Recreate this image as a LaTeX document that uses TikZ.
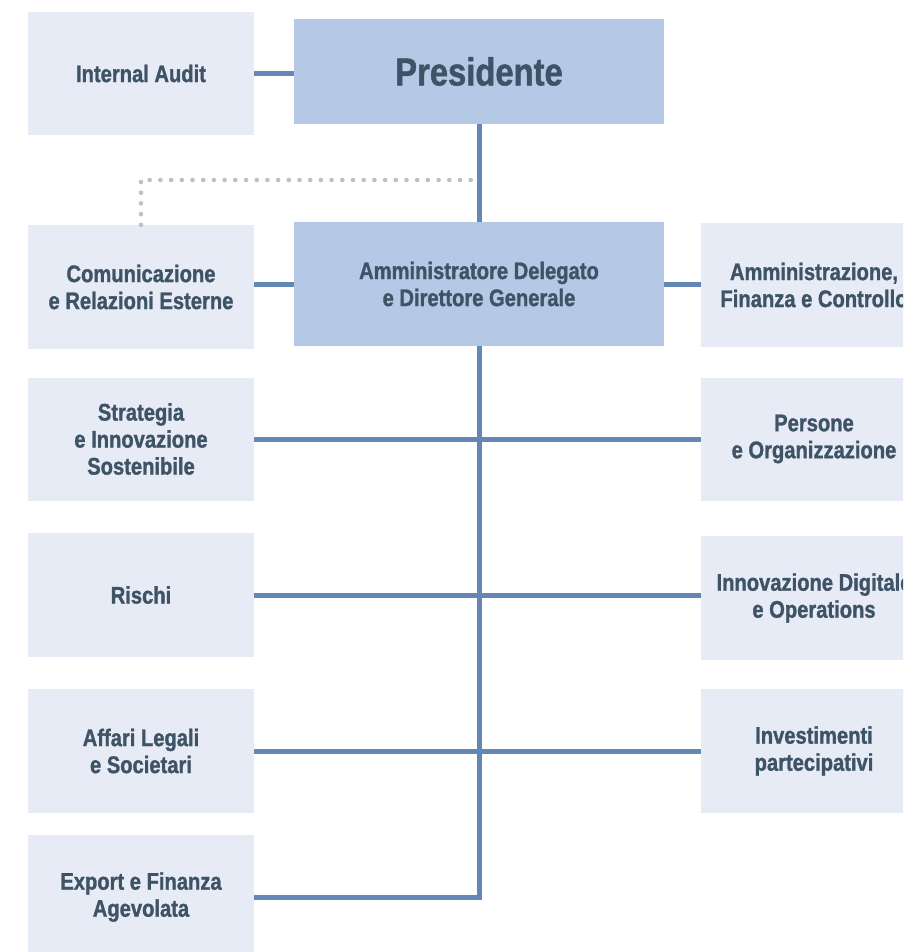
\documentclass[tikz,border=0pt]{standalone}
\usepackage{fontspec}
\setmainfont{Liberation Sans}[FakeStretch=0.84, BoldFeatures={FakeBold=1.2}]
\usepackage{xcolor}
\definecolor{boxlight}{HTML}{E7EBF5}
\definecolor{boxdark}{HTML}{B5C8E5}
\definecolor{linkblue}{HTML}{6487B6}
\definecolor{dotgrey}{HTML}{B8C2C9}
\definecolor{txtslate}{HTML}{3E5366}

\begin{document}
\begin{tikzpicture}[
    x=1pt, y=-1pt,
    unit/.style={fill=boxlight, minimum width=226pt, minimum height=123pt,
      inner sep=0pt, align=center, text=txtslate,
      font=\bfseries\fontsize{24}{27}\selectfont},
    head/.style={unit, fill=boxdark, minimum width=370pt},
    link/.style={draw=linkblue, line width=5pt},
    staff/.style={draw=dotgrey, line width=4.6pt, line cap=round,
      dash pattern=on 0pt off 10.7pt}
   ]
   \useasboundingbox (0,0) rectangle (903,952);
   \clip (0,0) rectangle (903,952);
   % top level
   \node[head, minimum height=105pt, font=\bfseries\fontsize{39}{44}\selectfont]
     (pres) at (479,71.5) {Presidente};
   \node[unit] (audit) at (141,73.5) {Internal Audit};
   \node[head, minimum height=124pt] (ad) at (479,284)
     {Amministratore Delegato\\e Direttore Generale};
   % left column
   \node[unit, minimum height=124pt] (comm) at (141,287)
     {Comunicazione\\e Relazioni Esterne};
   \node[unit] (strat) at (141,439) {Strategia\\e Innovazione\\Sostenibile};
   \node[unit, minimum height=124pt] (risk) at (141,595) {Rischi};
   \node[unit, minimum height=124pt] (legal) at (141,751) {Affari Legali\\e Societari};
   \node[unit, minimum height=124pt] (export) at (141,897) {Export e Finanza\\Agevolata};
   % right column
   \node[unit, minimum height=124pt] (amm) at (814,285)
     {Amministrazione,\\Finanza e Controllo};
   \node[unit] (pers) at (814,439) {Persone\\e Organizzazione};
   \node[unit, minimum height=124pt] (innov) at (814,598)
     {Innovazione Digitale\\e Operations};
   \node[unit, minimum height=124pt] (invest) at (814,751)
     {Investimenti\\partecipativi};

   \coordinate (dotend) at (480,180);

   \draw[staff] (comm.north) |- (dotend);
   \draw[link] (audit.east) -- (audit.east -| pres.west);
   \draw[link] (pres.south) -- (ad.north);
   \draw[link] (ad.west -| comm.east) -- (ad.west);
   \draw[link] (ad.east) -- (ad.east -| amm.west);
   \draw[link] (ad.south) |- (export.east);
   \draw[link] (strat.east) -- (pers.west);
   \draw[link] (risk.east) -- (risk.east -| innov.west);
   \draw[link] (legal.east) -- (invest.west);
   %\draw[link] (ad.south) -- (export.east);
  \end{tikzpicture}
\end{document}
